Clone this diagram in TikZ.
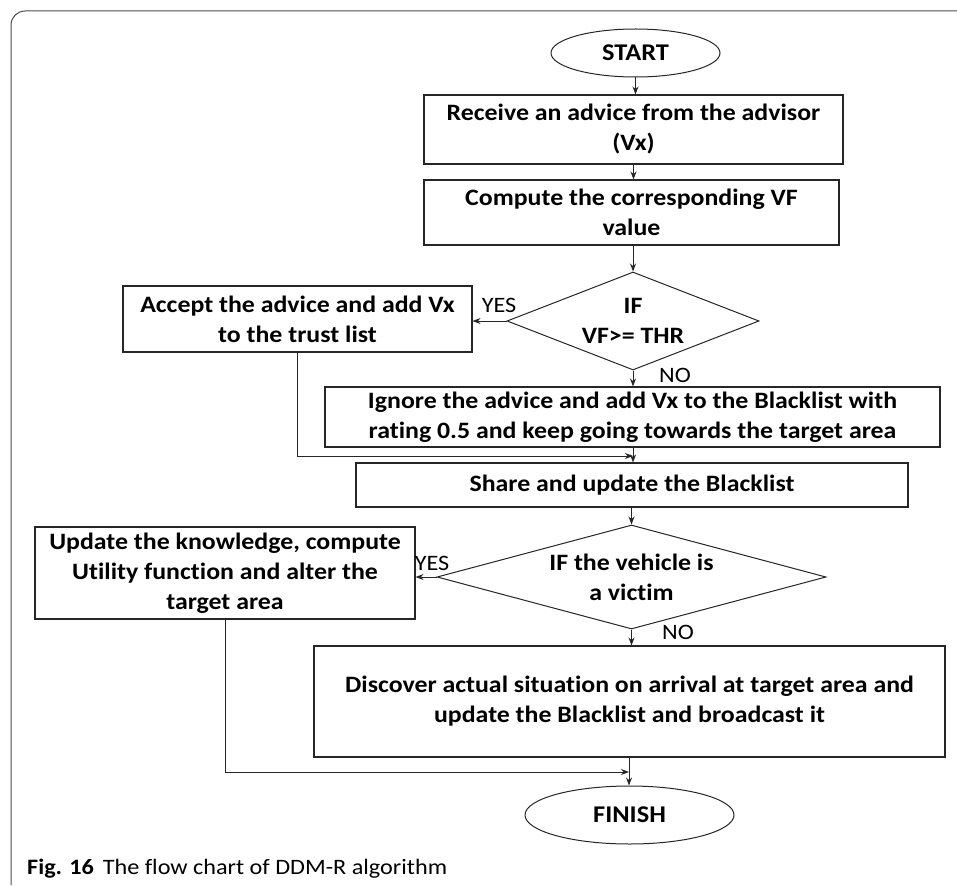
\documentclass[tikz,border=0pt]{standalone}
\usepackage{fontspec}
\setmainfont{Carlito}[FakeStretch=1.1,Ligatures=NoCommon]
\usetikzlibrary{shapes.geometric,arrows.meta}
\begin{document}
\begin{tikzpicture}[x=1pt,y=-1pt,
  box/.style={draw=black!85,line width=1.1pt,rectangle,inner sep=0pt,align=center,font=\fontsize{23.5}{30}\selectfont\bfseries},
  term/.style={draw=black!85,line width=1pt,ellipse,inner sep=0pt,font=\fontsize{24}{30}\selectfont\bfseries},
  dec/.style={draw=black!85,line width=1pt,diamond,inner sep=0pt,align=center,font=\fontsize{23.5}{30}\selectfont\bfseries},
  arr/.style={draw=black!85,line width=0.9pt,-{Stealth[length=8pt,width=6pt]}},
  lbl/.style={font=\fontsize{22}{24}\selectfont,inner sep=0pt},
  frame/.style={draw=black!70,line width=1pt,rounded corners=14pt}
]
\useasboundingbox (0,0) rectangle (957,885);
\coordinate (fa) at (11,885);
\coordinate (fb) at (11,11);
\coordinate (fc) at (957,11);
\draw[frame] (fa) -- (fb) -- (fc);

\node[term,minimum width=169pt,minimum height=48pt] (start) at (635.5,53) {START};
\node[box,minimum width=419pt,minimum height=69pt] (b1) at (633.5,129.5) {Receive an advice from the advisor\\(Vx)};
\node[box,minimum width=415pt,minimum height=65pt] (b2) at (631.5,212.5) {Compute the corresponding VF\\value};
\node[dec,aspect=2.57,minimum width=252pt,minimum height=98pt] (d1) at (633,321) {IF\\VF>= THR};
\node[box,minimum width=349pt,minimum height=66pt] (acc) at (297.5,319) {Accept the advice and add Vx\\to the trust list};
\node[box,minimum width=615pt,minimum height=60pt] (ign) at (632.5,417) {Ignore the advice and add Vx to the Blacklist with\\rating 0.5 and keep going towards the target area};
\node[box,minimum width=552pt,minimum height=44pt] (share) at (632,485) {Share and update the Blacklist};
\node[dec,aspect=3.74,minimum width=389pt,minimum height=104pt] (d2) at (631.5,577) {IF the vehicle is\\a victim};
\node[box,minimum width=380pt,minimum height=92pt] (upd) at (225,573) {Update the knowledge, compute\\Utility function and alter the\\target area};
\node[box,minimum width=631pt,minimum height=111pt] (disc) at (629.5,701.5) {Discover actual situation on arrival at target area and\\update the Blacklist and broadcast it};
\node[term,minimum width=209pt,minimum height=58pt] (fin) at (629.5,815) {FINISH};

\node[lbl] (yes1) at (499,305) {YES};
\node[lbl] (no1) at (675,375) {NO};
\node[lbl] (yes2) at (432,563) {YES};
\node[lbl] (no2) at (678,632) {NO};

\coordinate (m1) at (633,456);
\coordinate (m2) at (629,772);

\draw[arr] (start.south) -- (start.south |- b1.north);
\draw[arr] (b1.south) -- (b1.south |- b2.north);
\draw[arr] (b2.south -| d1.north) -- (d1.north);
\draw[arr] (d1.west) -- (d1.west -| acc.east);
\draw[arr] (d1.south) -- (d1.south |- ign.north);
\draw[arr] (acc.south) |- (m1);
\draw[arr] (ign.south -| m1) -- (share.north -| m1);
\draw[arr] (share.south -| d2.north) -- (d2.north);
\draw[arr] (d2.west) -- (d2.west -| upd.east);
\draw[arr] (d2.south) -- (d2.south |- disc.north);
\draw[arr] (upd.south) |- (m2);
\draw[arr] (disc.south -| m2) -- (fin.north -| m2);

\node[anchor=west,inner sep=0pt,font=\fontsize{22}{24}\selectfont] (cap) at (27,869) {\textbf{Fig. 16}\hspace{0.4em}The flow chart of DDM-R algorithm};
\end{tikzpicture}
\end{document}
